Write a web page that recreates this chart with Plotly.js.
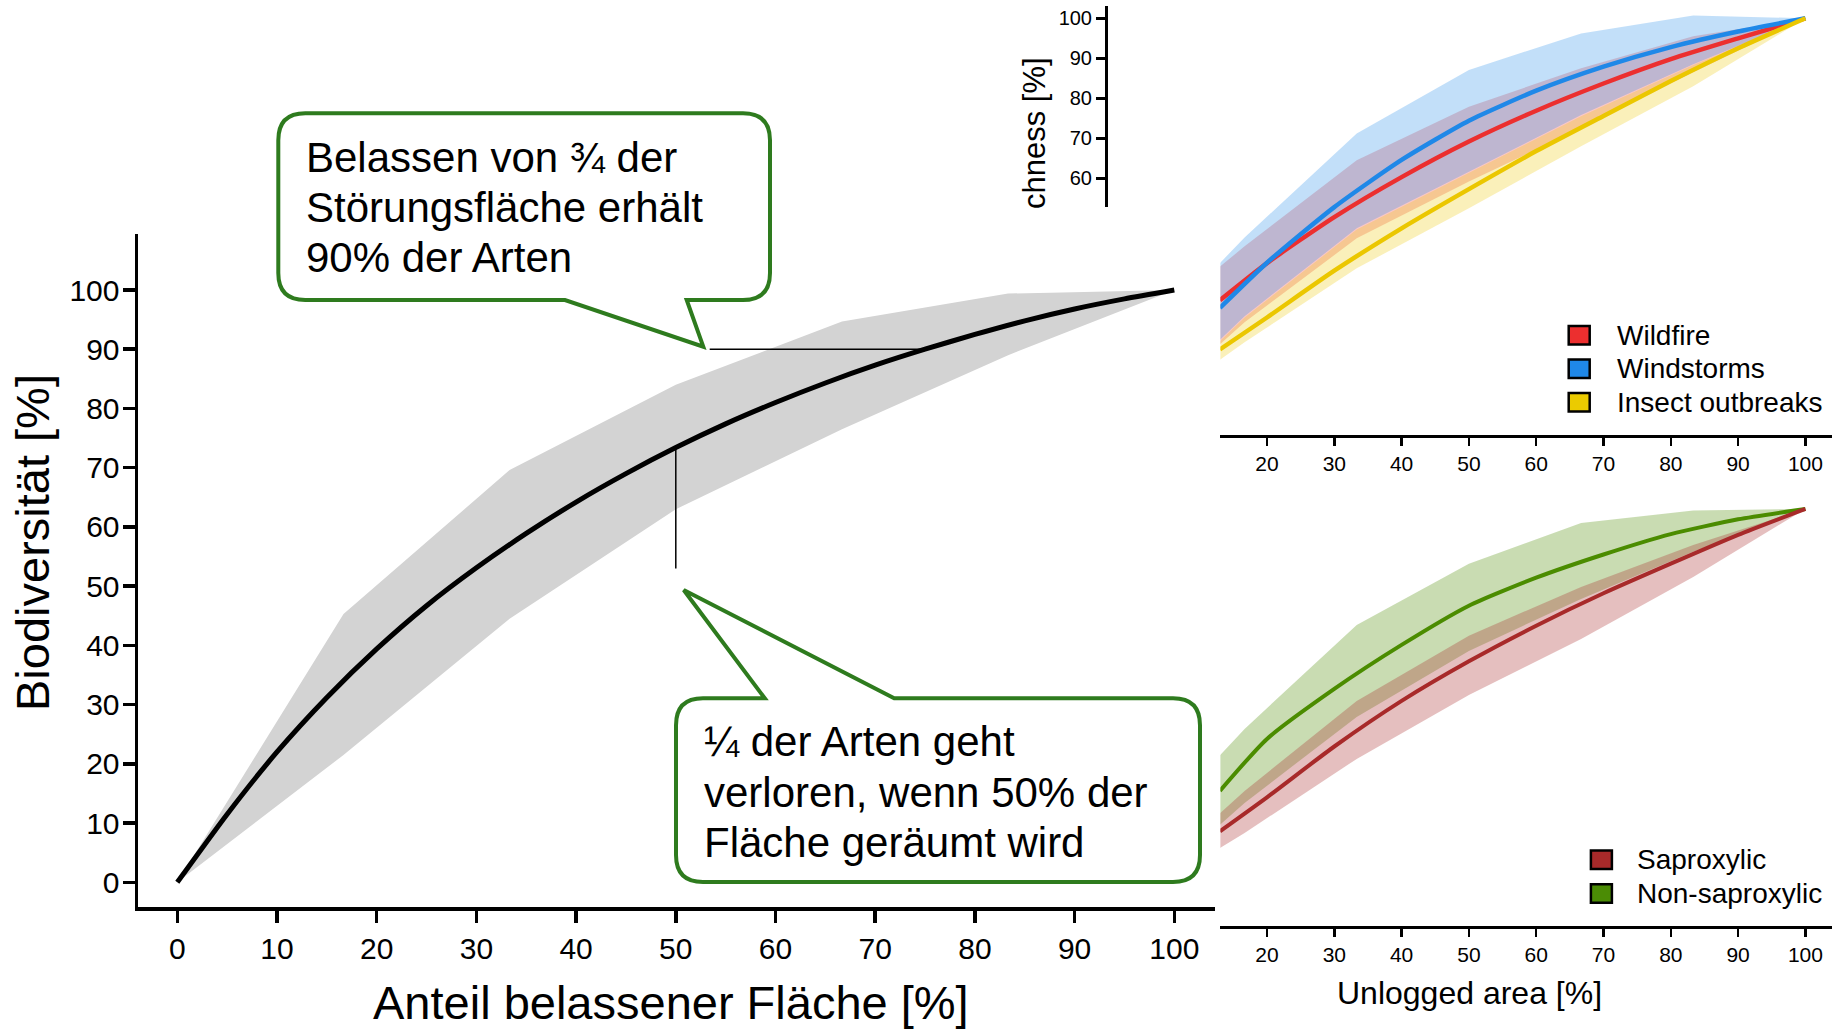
<!DOCTYPE html>
<html><head><meta charset="utf-8">
<script src="https://cdn.plot.ly/plotly-3.0.1.min.js"></script>
<style>html,body{margin:0;padding:0;background:#fff}#chart{width:1839px;height:1029px}</style>
</head><body><div id="chart"></div>
<script>
// ---------- Main chart: Biodiversität vs. Anteil belassener Fläche ----------
const mainX = [0,5,10,15,20,25,30,35,40,45,50,55,60,65,70,75,80,85,90,95,100];
const mainY = [0,11.5,22,31.2,39.4,46.7,53.1,58.9,64.2,69,73.4,77.4,81,84.3,87.3,90,92.5,94.8,96.8,98.5,100];
const mainBandX = [0,16.67,33.33,50,66.67,83.33,100];
const mainUpper = [0,45.3,69.6,84,94.7,99.4,100];
const mainLower = [0,21.5,44.5,63,76.5,89,100];
const mainTicks = [0,10,20,30,40,50,60,70,80,90,100];

// ---------- Top-right: disturbance types ----------
const distX = [13,20,30,40,50,60,70,80,90,100];
const wildfire = [29.5,38.8,50.3,60.3,69.2,76.9,83.7,89.8,95,100];
const windstorms = [27.6,38.9,52.8,64.6,74.4,81.9,87.9,92.8,96.7,100];
const insectOutbreaks = [17.2,25.2,36.9,47.5,57.3,66.8,75.6,84.3,92.5,100];
const distBandX = [13,16.67,33.33,50,66.67,83.33,100];
const wildfireUpper = [37.9,43,64.5,77.9,87.5,95.5,100];
const wildfireLower = [18.5,24,45,59.2,72.5,86.5,100];
const windUpper = [38.8,45.2,71.2,87.1,96.2,100.7,100];
const windLower = [19.6,25.5,47.5,61.7,75.8,88.5,100];
const insectUpper = [19.3,25.2,47.2,61.4,75.5,88.3,100];
const insectLower = [14.6,19,37.5,52.5,68,83,100];
const distNames = ['Wildfire','Windstorms','Insect outbreaks'];
const distLegendColors = ['#ec2f2f','#1f88e8','#ebcb00'];

// ---------- Bottom-right: species groups ----------
const grpX = [13,20,30,40,50,60,70,80,90,100];
const saproxylic = [19.4,27.9,40.6,52,61.9,70.8,78.9,86.3,93.5,100];
const nonSaproxylic = [29.5,42.5,55,66,75.8,82.8,88.6,93.7,97.4,100];
const grpBandX = [13,16.67,33.33,50,66.67,83.33,100];
const sapUpper = [23.9,29.5,52,68.3,80.5,91,100];
const sapLower = [15.2,19,37.5,53.5,67.5,83,100];
const nonSapUpper = [38.4,45,71,86.3,96.5,99.6,100];
const nonSapLower = [21,26.5,48,64.5,77.5,89.3,100];
const grpNames = ['Saproxylic','Non-saproxylic'];
const grpLegendColors = ['#a82a2a','#4b8c05'];
const smallTicks = [20,30,40,50,60,70,80,90,100];
const richTicks = [60,70,80,90,100];

// ---------- texts ----------
const callout1 = ["Belassen von ¾ der","Störungsfläche erhält","90% der Arten"];
const callout2 = ["¼ der Arten geht","verloren, wenn 50% der","Fläche geräumt wird"];
const leaderV = {x:50, yFrom:53};
const leaderH = {y:90, xFrom:53.4};

// ---------- geometry helpers ----------
const W = 1839, H = 1029;
const px = v => v / W;
const py = v => 1 - v / H;
const MX = p => (p - 177.3) / 9.97;
const MY = p => (882.3 - p) / 5.923;
const SX = p => 20 + (p - 1267) / 6.73;
const TY = p => 100 - (p - 18.3) / 4.0;
const LY = p => 100 - (p - 508.9) / 4.0;
const FONT = '"Liberation Sans", Arial, sans-serif';
const GREEN = '#2e7b1e';

function band(x, up, lo, color, xa, ya) {
  return {x: x.concat(x.slice().reverse()), y: up.concat(lo.slice().reverse()),
    type:'scatter', mode:'lines', fill:'toself', fillcolor: color, line:{width:0},
    xaxis: xa, yaxis: ya, showlegend:false, hoverinfo:'skip'};
}
function line(x, y, color, w, xa, ya) {
  return {x, y, type:'scatter', mode:'lines', line:{color, width:w, shape:'spline', smoothing:0.6},
    xaxis: xa, yaxis: ya, showlegend:false, hoverinfo:'skip'};
}
function interp(xs, ys, x) {
  for (let i = 1; i < xs.length; i++) if (x <= xs[i]) {
    const t = (x - xs[i-1]) / (xs[i] - xs[i-1]); return ys[i-1] + t * (ys[i] - ys[i-1]); }
  return ys[ys.length-1];
}

const traces = [
  band(mainBandX, mainUpper, mainLower, '#d3d3d3', 'x', 'y'),
  line(mainX, mainY, '#000', 5, 'x', 'y'),

  band(distBandX, wildfireUpper, wildfireLower, 'rgba(236,47,47,0.27)', 'x2', 'y2'),
  band(distBandX, windUpper, windLower, 'rgba(31,136,232,0.27)', 'x2', 'y2'),
  band(distBandX, insectUpper, insectLower, 'rgba(235,199,0,0.27)', 'x2', 'y2'),
  line(distX, wildfire, '#ec2f2f', 4.5, 'x2', 'y2'),
  line(distX, windstorms, '#1f88e8', 4.5, 'x2', 'y2'),
  line(distX, insectOutbreaks, '#ebc700', 4.5, 'x2', 'y2'),

  {x:[null], y:[null], type:'scatter', mode:'markers', xaxis:'x2', yaxis:'y3', showlegend:false, hoverinfo:'skip'},

  band(grpBandX, nonSapUpper, nonSapLower, 'rgba(75,140,0,0.3)', 'x3', 'y4'),
  band(grpBandX, sapUpper, sapLower, 'rgba(168,42,42,0.3)', 'x3', 'y4'),
  line(grpX, nonSaproxylic, '#4b8c00', 4, 'x3', 'y4'),
  line(grpX, saproxylic, '#a82a2a', 4, 'x3', 'y4')
];

const noAxis = {showline:false, showticklabels:false, ticks:'', showgrid:false, zeroline:false, fixedrange:true};
const smallX = (dom, anchor) => ({domain: dom, range:[SX(1220.4), SX(1832)], anchor,
  showline:true, linewidth:3, linecolor:'#000', ticks:'outside', ticklen:8, tickwidth:2.5, tickcolor:'#000',
  tickvals: smallTicks, tickfont:{family:FONT, size:21, color:'#000'}, showgrid:false, zeroline:false, fixedrange:true});

// callout shapes (paper coordinates from pixel positions)
const P = (x, y) => px(x) + ',' + py(y);
function box1Path() {
  const L=278.3, T=113.3, R=770, B=300, r=27;
  return 'M' + P(L+r,T) + ' L' + P(R-r,T) + ' Q' + P(R,T) + ' ' + P(R,T+r) +
    ' L' + P(R,B-r) + ' Q' + P(R,B) + ' ' + P(R-r,B) +
    ' L' + P(686.7,B) + ' L' + P(703.3,346.7) + ' L' + P(565,B) +
    ' L' + P(L+r,B) + ' Q' + P(L,B) + ' ' + P(L,B-r) +
    ' L' + P(L,T+r) + ' Q' + P(L,T) + ' ' + P(L+r,T) + ' Z';
}
function box2Path() {
  const L=676, T=698.3, R=1200, B=882, r=27;
  return 'M' + P(L+r,T) + ' L' + P(764.8,T) + ' L' + P(683.7,590) + ' L' + P(894.2,T) +
    ' L' + P(R-r,T) + ' Q' + P(R,T) + ' ' + P(R,T+r) +
    ' L' + P(R,B-r) + ' Q' + P(R,B) + ' ' + P(R-r,B) +
    ' L' + P(L+r,B) + ' Q' + P(L,B) + ' ' + P(L,B-r) +
    ' L' + P(L,T+r) + ' Q' + P(L,T) + ' ' + P(L+r,T) + ' Z';
}

const xAt90 = interp(mainY, mainX, leaderH.y);

const shapes = [
  {type:'line', xref:'x', yref:'y', x0:leaderV.x, x1:leaderV.x, y0:leaderV.yFrom, y1:interp(mainX, mainY, leaderV.x), line:{color:'#000', width:1.5}},
  {type:'line', xref:'x', yref:'y', x0:leaderH.xFrom, x1:xAt90, y0:leaderH.y, y1:leaderH.y, line:{color:'#000', width:1.5}},
  {type:'path', xref:'paper', yref:'paper', path: box1Path(), fillcolor:'#fff', line:{color:GREEN, width:4}, layer:'above'},
  {type:'path', xref:'paper', yref:'paper', path: box2Path(), fillcolor:'#fff', line:{color:GREEN, width:4}, layer:'above'}
];

const ann = (text, x, y, size, opts) => Object.assign({text, x:px(x), y:py(y), xref:'paper', yref:'paper',
  showarrow:false, font:{family:FONT, size, color:'#000'}, xanchor:'center', yanchor:'middle'}, opts || {});

const annotations = [
  ann('Biodiversität [%]', 32, 543, 47, {textangle:-90}),
  ann('Anteil belassener Fläche [%]', 671, 1002, 47),
  ann('chness [%]', 1034, 133, 31, {textangle:-90}),
  ann('Unlogged area [%]', 1469, 993, 32)
];
const c1y = [157, 207, 257], c2y = [741, 792, 842];
callout1.forEach((t, i) => annotations.push(ann(t, 303.5, c1y[i], 42, {xanchor:'left'})));
callout2.forEach((t, i) => annotations.push(ann(t, 702, c2y[i], 42, {xanchor:'left'})));

// legends: keys (squares) and labels
function addLegend(names, colors, cx, cy0, step, textX) {
  names.forEach((n, i) => {
    const cy = cy0 + i * step;
    shapes.push({type:'rect', xref:'paper', yref:'paper', x0:px(cx-10.5), x1:px(cx+10.5), y0:py(cy+9.3), y1:py(cy-9.3),
      fillcolor: colors[i], line:{color:'#000', width:2.5}, layer:'above'});
    annotations.push(ann(n, textX, cy, 28, {xanchor:'left'}));
  });
}
addLegend(distNames, distLegendColors, 1579.2, 335.3, 33.5, 1614.5);
addLegend(grpNames, grpLegendColors, 1601.4, 859.8, 33.7, 1635.3);

const layout = {
  width: W, height: H, margin:{l:0, r:0, t:0, b:0, pad:0}, autosize:false,
  paper_bgcolor:'#fff', plot_bgcolor:'rgba(0,0,0,0)', showlegend:false, hovermode:false,
  font:{family:FONT, color:'#000'},
  xaxis: {domain:[px(138), px(1215)], range:[MX(138), MX(1215)], anchor:'y',
    showline:true, linewidth:3.5, linecolor:'#000', ticks:'outside', ticklen:12, tickwidth:3.5, tickcolor:'#000',
    tickvals: mainTicks, tickfont:{family:FONT, size:30, color:'#000'}, showgrid:false, zeroline:false, fixedrange:true},
  yaxis: {domain:[py(907), py(234)], range:[MY(907), MY(234)], anchor:'x',
    showline:true, linewidth:3.5, linecolor:'#000', ticks:'outside', ticklen:12, tickwidth:3.5, tickcolor:'#000',
    ticklabelstandoff:-3,
    tickvals: mainTicks, tickfont:{family:FONT, size:30, color:'#000'}, showgrid:false, zeroline:false, fixedrange:true},
  xaxis2: smallX([px(1220.4), px(1832)], 'y2'),
  yaxis2: Object.assign({domain:[py(435), 1], range:[TY(435), TY(0)], anchor:'x2'}, noAxis),
  yaxis3: {domain:[py(207), py(6)], range:[TY(207), TY(6)], anchor:'free', position: px(1106),
    showline:true, linewidth:3, linecolor:'#000', ticks:'outside', ticklen:9, tickwidth:2.5, tickcolor:'#000',
    tickvals: richTicks, tickfont:{family:FONT, size:20, color:'#000'}, showgrid:false, zeroline:false, fixedrange:true},
  xaxis3: smallX([px(1220.4), px(1832)], 'y4'),
  yaxis4: Object.assign({domain:[py(926), py(480)], range:[LY(926), LY(480)], anchor:'x3'}, noAxis),
  shapes, annotations
};

Plotly.newPlot('chart', traces, layout, {staticPlot:true, displayModeBar:false});
</script></body></html>
